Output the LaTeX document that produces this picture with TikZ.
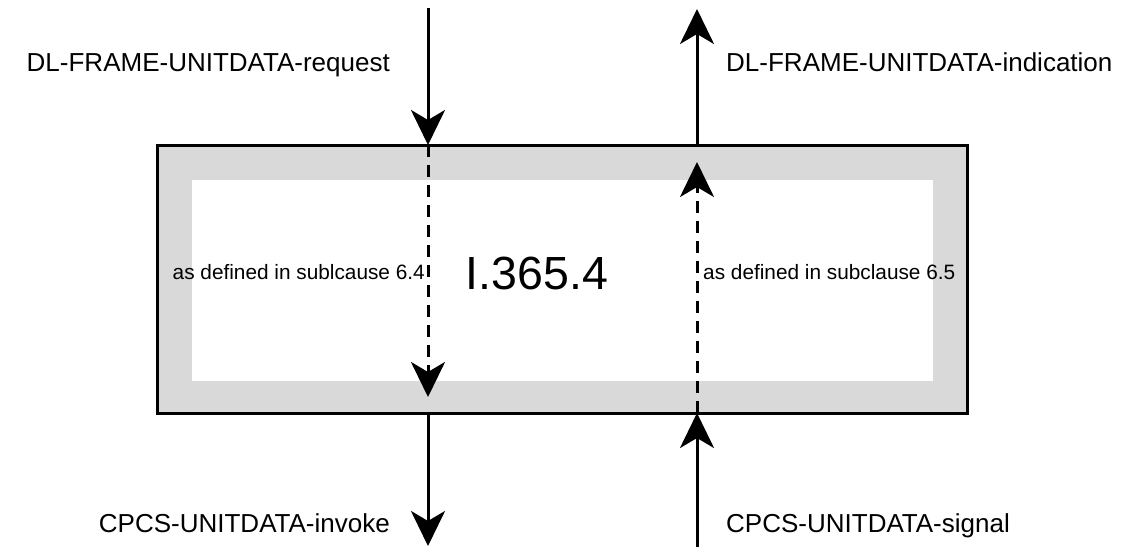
\documentclass[tikz,border=0pt]{standalone}
\usepackage{fontspec}
\setmainfont{Liberation Sans}
\usetikzlibrary{arrows.meta}
\usetikzlibrary{positioning}

\tikzset{
  flow/.style={line width=3pt, -{Stealth[length=35pt, width=34pt, inset=10pt]}},
  inner flow/.style={flow, dash pattern=on 12pt off 8pt},
  prim/.style={font=\fontsize{26}{30}\selectfont, inner sep=0pt},
  note/.style={font=\fontsize{20.8}{24}\selectfont, inner sep=0pt},
}

\begin{document}
\begin{tikzpicture}[x=1pt, y=-1pt]
\useasboundingbox (0,0) rectangle (1132,547);

% entity
\draw[line width=3pt, fill=black!15] (157,145) rectangle (967,413);
\fill[white] (192,180) rectangle (933,381);
\node[font=\fontsize{46.5}{52}\selectfont, inner sep=0pt, anchor=base] (entity) at (537,289) {I.365.4};

% points on the left and right primitives
\coordinate (l-top) at (428,8);
\coordinate (l-upper) at (428,145);
\coordinate (l-tip) at (428,397);
\coordinate (l-lower) at (428,413);
\coordinate (l-bot) at (428,546);
\coordinate (r-bot) at (697,547);
\coordinate (r-lower) at (697,413);
\coordinate (r-tip) at (697,162);
\coordinate (r-upper) at (697,145);
\coordinate (r-top) at (697,9);

% down
\draw[flow] (l-top) -- (l-upper);
\draw[inner flow] (l-upper) -- (l-tip);
\draw[flow] (l-lower) -- (l-bot);
% up
\draw[flow] (r-bot) -- (r-lower);
\draw[inner flow] (r-lower) -- (r-tip);
\draw[flow] (r-upper) -- (r-top);

% labels
\node[prim, anchor=base east] (req) at (390,71) {DL-FRAME-UNITDATA-request};
\node[prim, anchor=base west] (ind) at (726,71) {DL-FRAME-UNITDATA-indication};
\node[prim, anchor=base east] (inv) at (390,532) {CPCS-UNITDATA-invoke};
\node[prim, anchor=base west] (sig) at (726,532) {CPCS-UNITDATA-signal};
\node[note, anchor=base east] (def-l) at (425,279) {as defined in sublcause 6.4};
\node[note, anchor=base west] (def-r) at (703,279) {as defined in subclause 6.5};

\end{tikzpicture}
\end{document}
